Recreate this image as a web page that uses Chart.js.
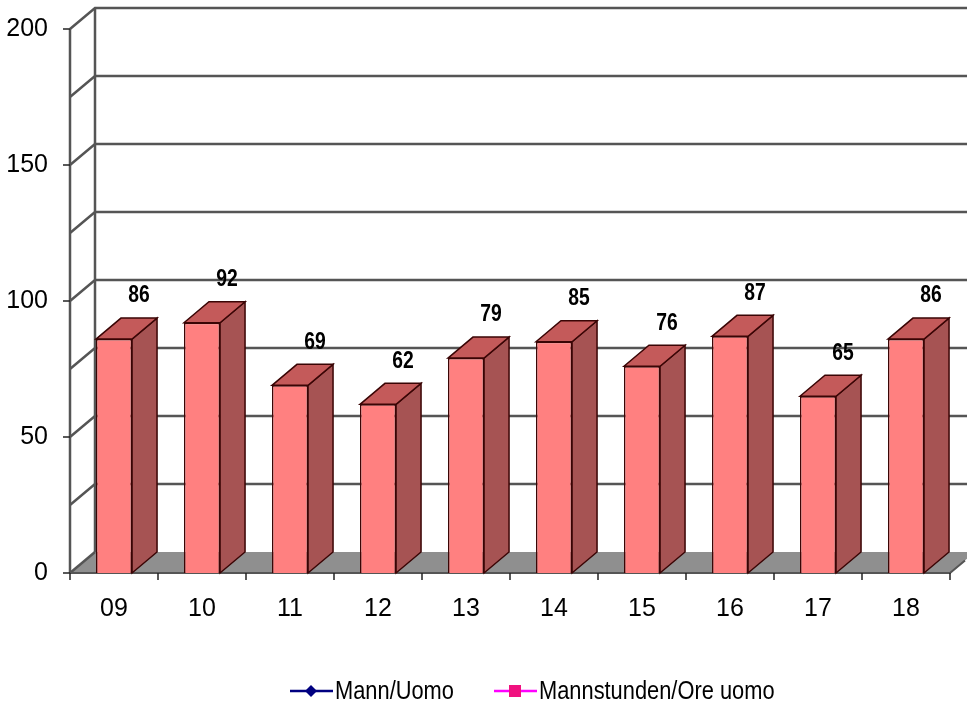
<!DOCTYPE html>
<html>
<head>
<meta charset="UTF-8">
<title>Mann/Uomo</title>
<script src="https://cdn.jsdelivr.net/npm/chart.js"></script>
<style>
  html, body { margin: 0; padding: 0; background: #fff; }
  #wrap { width: 967px; height: 706px; }
</style>
</head>
<body>
<div id="wrap"><canvas id="chart" width="967" height="706"></canvas></div>
<script>
  // data
  const years = ["09", "10", "11", "12", "13", "14", "15", "16", "17", "18"];
  const values = [86, 92, 69, 62, 79, 85, 76, 87, 65, 86];
  const seriesNames = ["Mann/Uomo", "Mannstunden/Ore uomo"];
  const seriesColors = ["#000080", "#ff00ff"];
  const markerColors = ["#000080", "#f0117f"];

  const DX = 25, DY = -21; // 3D depth
  const gridColor = "#555";
  const FONT = "'Liberation Sans', Arial, sans-serif";
  const NARROW = 0.84; // squeeze text like Arial Narrow

  function shade(ctx, pts, fill, stroke) {
    ctx.beginPath();
    ctx.moveTo(pts[0][0], pts[0][1]);
    for (let i = 1; i < pts.length; i++) ctx.lineTo(pts[i][0], pts[i][1]);
    ctx.closePath();
    ctx.fillStyle = fill;
    ctx.fill();
    if (stroke) {
      ctx.strokeStyle = stroke;
      ctx.lineWidth = 1.5;
      ctx.stroke();
    }
  }

  function narrowText(ctx, txt, x, y) {
    ctx.save();
    ctx.translate(x, y);
    ctx.scale(NARROW, 1);
    ctx.fillText(txt, 0, 0);
    ctx.restore();
  }

  const walls = {
    id: "walls",
    beforeDatasetsDraw(chart) {
      const { ctx, chartArea: a, scales: { x, y } } = chart;
      ctx.save();
      // floor
      shade(ctx, [[a.left, a.bottom], [a.left + DX, a.bottom + DY], [a.right + DX, a.bottom + DY], [a.right, a.bottom]], "#8f8f8f");
      ctx.strokeStyle = gridColor;
      ctx.lineWidth = 2.5;
      // back gridlines and diagonals
      for (let v = 0; v <= 200; v += 25) {
        const py = y.getPixelForValue(v);
        ctx.beginPath();
        ctx.moveTo(a.left, py);
        ctx.lineTo(a.left + DX, py + DY);
        if (v > 0) ctx.lineTo(a.right + DX, py + DY);
        ctx.stroke();
      }
      // back wall edge
      ctx.beginPath();
      ctx.moveTo(a.left + DX, a.top + DY);
      ctx.lineTo(a.left + DX, a.bottom + DY);
      ctx.stroke();
      // front left axis
      ctx.beginPath();
      ctx.moveTo(a.left, a.top);
      ctx.lineTo(a.left, a.bottom);
      ctx.stroke();
      // y tick marks
      ctx.lineWidth = 1.5;
      ctx.strokeStyle = "#222";
      for (let v = 0; v <= 200; v += 50) {
        const py = y.getPixelForValue(v);
        ctx.beginPath();
        ctx.moveTo(a.left - 7, py);
        ctx.lineTo(a.left, py);
        ctx.stroke();
      }
      // x axis line and ticks
      ctx.strokeStyle = gridColor;
      ctx.lineWidth = 2;
      ctx.beginPath();
      ctx.moveTo(a.left, a.bottom);
      ctx.lineTo(a.right, a.bottom);
      ctx.lineTo(a.right + DX * 0.6, a.bottom + DY * 0.6);
      ctx.stroke();
      ctx.lineWidth = 1.5;
      ctx.strokeStyle = "#222";
      const step = (a.right - a.left) / years.length;
      for (let i = 0; i <= years.length; i++) {
        const px = a.left + step * i;
        ctx.beginPath();
        ctx.moveTo(px, a.bottom);
        ctx.lineTo(px, a.bottom + 7);
        ctx.stroke();
      }
      ctx.restore();
    },
    afterDatasetsDraw(chart) {
      const { ctx } = chart;
      const meta = chart.getDatasetMeta(0);
      ctx.save();
      meta.data.forEach((bar, i) => {
        const l = bar.x - bar.width / 2, r = bar.x + bar.width / 2;
        const t = bar.y, b = bar.base;
        // side face
        shade(ctx, [[r, t], [r + DX, t + DY], [r + DX, b + DY], [r, b]], "#a65353", "#3a0505");
        // top face
        shade(ctx, [[l, t], [l + DX, t + DY], [r + DX, t + DY], [r, t]], "#c45a5a", "#3a0505");
        // value label
        ctx.fillStyle = "#000";
        ctx.font = "bold 23px " + FONT;
        ctx.textAlign = "center";
        ctx.textBaseline = "middle";
        narrowText(ctx, String(values[i]), bar.x + 25, t - 43);
      });
      ctx.restore();
    },
    afterDraw(chart) {
      const { ctx } = chart;
      ctx.save();
      ctx.font = "26px " + FONT;
      ctx.textBaseline = "middle";
      const yl = 691;
      const xs = [290, 494];
      seriesNames.forEach((name, i) => {
        const x0 = xs[i];
        ctx.strokeStyle = seriesColors[i];
        ctx.lineWidth = 2.5;
        ctx.beginPath();
        ctx.moveTo(x0, yl);
        ctx.lineTo(x0 + 43, yl);
        ctx.stroke();
        ctx.fillStyle = markerColors[i];
        const cx = x0 + 21;
        if (i === 0) {
          ctx.beginPath();
          ctx.moveTo(cx, yl - 6);
          ctx.lineTo(cx + 6, yl);
          ctx.lineTo(cx, yl + 6);
          ctx.lineTo(cx - 6, yl);
          ctx.closePath();
          ctx.fill();
        } else {
          ctx.fillRect(cx - 6, yl - 6, 12, 12);
        }
        ctx.fillStyle = "#000";
        ctx.textAlign = "left";
        narrowText(ctx, name, x0 + 45, yl + 1);
      });
      ctx.restore();
    }
  };

  new Chart(document.getElementById("chart"), {
    type: "bar",
    data: {
      labels: years,
      datasets: [{
        label: seriesNames[1],
        data: values,
        backgroundColor: "#ff8080",
        borderColor: "#3a0505",
        borderWidth: 1.5,
        categoryPercentage: 1,
        barPercentage: 0.41
      }]
    },
    options: {
      responsive: false,
      animation: false,
      layout: { padding: { top: 28, right: 17, left: 0, bottom: 0 } },
      plugins: { legend: { display: false }, tooltip: { enabled: false } },
      scales: {
        x: {
          grid: { display: false },
          border: { display: false },
          ticks: {
            color: "#000",
            padding: 13,
            font: { family: FONT, size: 25 }
          },
          afterFit(scale) { scale.height = 133; }
        },
        y: {
          min: 0,
          max: 200,
          grid: { display: false },
          border: { display: false },
          ticks: {
            stepSize: 25,
            color: "#000",
            padding: 14,
            font: { family: FONT, size: 25 },
            callback: v => (v % 50 === 0 ? v : "")
          },
          afterFit(scale) { scale.width = 70; }
        }
      }
    },
    plugins: [walls]
  });
</script>
</body>
</html>
